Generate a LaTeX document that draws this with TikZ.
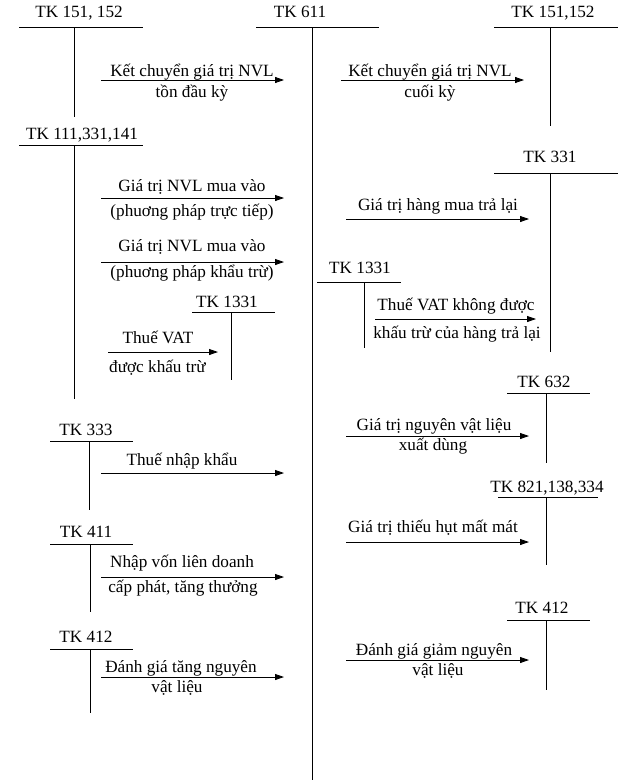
\documentclass[tikz,border=0pt]{standalone}
\usepackage{fontspec}
\setmainfont{Liberation Serif}
\usetikzlibrary{arrows.meta}
\begin{document}
\begin{tikzpicture}[x=1pt,y=-1pt,
  font=\fontsize{17.2}{20}\selectfont,
  lbl/.style={anchor=base,inner sep=0pt},
  tline/.style={line width=0.8pt},
  flow/.style={line width=0.8pt,-{Triangle[length=9pt,width=6pt]}}]
\useasboundingbox (0,0) rectangle (635,780);
% ---- T accounts ----
% TK 151,152 left
\node[lbl] (a1) at (79,17) {TK 151, 152};
\draw[tline] (19,27) -- (143,27); \draw[tline] (74,27) -- (74,117);
% TK 611
\node[lbl] (a611) at (300,17) {TK 611};
\draw[tline] (256,27) -- (379,27); \draw[tline] (312,27) -- (312,780);
% TK 151,152 right
\node[lbl] (a2) at (553,17) {TK 151,152};
\draw[tline] (494,27) -- (618,27); \draw[tline] (550,27) -- (550,126);
% TK 111,331,141
\node[lbl] (a3) at (82,139) {TK 111,331,141};
\draw[tline] (19,145) -- (143,145); \draw[tline] (74,145) -- (74,399);
% TK 1331 left
\node[lbl] (a4) at (227,307) {TK 1331};
\draw[tline] (192,312) -- (275,312); \draw[tline] (231,312) -- (231,380);
% TK 331 right
\node[lbl] (a5) at (550,162) {TK 331};
\draw[tline] (494,173) -- (618,173); \draw[tline] (550,173) -- (550,352);
% TK 1331 right
\node[lbl] (a6) at (360,273) {TK 1331};
\draw[tline] (317,282) -- (401,282); \draw[tline] (364,282) -- (364,348);
% TK 632
\node[lbl] (a7) at (544,387) {TK 632};
\draw[tline] (507,393) -- (590,393); \draw[tline] (546,393) -- (546,463);
% TK 821,138,334
\node[lbl] (a8) at (547,492) {TK 821,138,334};
\draw[tline] (498,497) -- (598,497); \draw[tline] (546,497) -- (546,565);
% TK 412 right
\node[lbl] (a9) at (542,613) {TK 412};
\draw[tline] (507,620) -- (590,620); \draw[tline] (546,620) -- (546,690);
% TK 333
\node[lbl] (a10) at (86,435) {TK 333};
\draw[tline] (50,441) -- (133,441); \draw[tline] (89,441) -- (89,510);
% TK 411
\node[lbl] (a11) at (86,537) {TK 411};
\draw[tline] (50,544) -- (133,544); \draw[tline] (90,544) -- (90,612);
% TK 412 left
\node[lbl] (a12) at (86,642) {TK 412};
\draw[tline] (50,649) -- (133,649); \draw[tline] (90,649) -- (90,713);
% ---- flows ----
\coordinate (f1s) at (101,80); \coordinate (f1e) at (284,80);
\draw[flow] (f1s) -- (f1e);
\node[lbl] (t1a) at (192,76) {Kết chuyển giá trị NVL};
\node[lbl] (t1b) at (192,97) {tồn đầu kỳ};
\coordinate (f2s) at (341,80); \coordinate (f2e) at (524,80);
\draw[flow] (f2s) -- (f2e);
\node[lbl] (t2a) at (430,76) {Kết chuyển giá trị NVL};
\node[lbl] (t2b) at (430,97) {cuối kỳ};
\coordinate (f3s) at (101,198); \coordinate (f3e) at (284,198);
\draw[flow] (f3s) -- (f3e);
\node[lbl] (t3a) at (192,191) {Giá trị NVL mua vào};
\node[lbl] (t3b) at (192,216) {(phuơng pháp trực tiếp)};
\coordinate (f4s) at (101,262); \coordinate (f4e) at (284,262);
\draw[flow] (f4s) -- (f4e);
\node[lbl] (t4a) at (192,251) {Giá trị NVL mua vào};
\node[lbl] (t4b) at (192,277) {(phuơng pháp khẩu trừ)};
\coordinate (f5s) at (108,352); \coordinate (f5e) at (218,352);
\draw[flow] (f5s) -- (f5e);
\node[lbl] (t5a) at (158,343) {Thuế VAT};
\node[lbl,anchor=base west] (t5b) at (109,372) {được khấu trừ};
\coordinate (f6s) at (346,219); \coordinate (f6e) at (529,219);
\draw[flow] (f6s) -- (f6e);
\node[lbl] (t6a) at (438,210) {Giá trị hàng mua trả lại};
\coordinate (f7s) at (375,319); \coordinate (f7e) at (536,319);
\draw[flow] (f7s) -- (f7e);
\node[lbl] (t7a) at (456,310) {Thuế VAT không được};
\node[lbl] (t7b) at (457,338) {khấu trừ của hàng trả lại};
\coordinate (f8s) at (346,436); \coordinate (f8e) at (529,436);
\draw[flow] (f8s) -- (f8e);
\node[lbl] (t8a) at (434,430) {Giá trị nguyên vật liệu};
\node[lbl] (t8b) at (433,450) {xuất dùng};
\coordinate (f9s) at (346,542); \coordinate (f9e) at (529,542);
\draw[flow] (f9s) -- (f9e);
\node[lbl] (t9a) at (433,532) {Giá trị thiếu hụt mất mát};
\coordinate (f10s) at (346,660); \coordinate (f10e) at (529,660);
\draw[flow] (f10s) -- (f10e);
\node[lbl] (t10a) at (434,655) {Đánh giá giảm nguyên};
\node[lbl] (t10b) at (438,675) {vật liệu};
\coordinate (f11s) at (101,473); \coordinate (f11e) at (284,473);
\draw[flow] (f11s) -- (f11e);
\node[lbl] (t11a) at (182,465) {Thuế nhập khẩu};
\coordinate (f12s) at (101,577); \coordinate (f12e) at (284,577);
\draw[flow] (f12s) -- (f12e);
\node[lbl] (t12a) at (182,567) {Nhập vốn liên doanh};
\node[lbl] (t12b) at (183,592) {cấp phát, tăng thưởng};
\coordinate (f13s) at (101,677); \coordinate (f13e) at (284,677);
\draw[flow] (f13s) -- (f13e);
\node[lbl] (t13a) at (181,672) {Đánh giá tăng nguyên};
\node[lbl] (t13b) at (177,692) {vật liệu};
\end{tikzpicture}
\end{document}
